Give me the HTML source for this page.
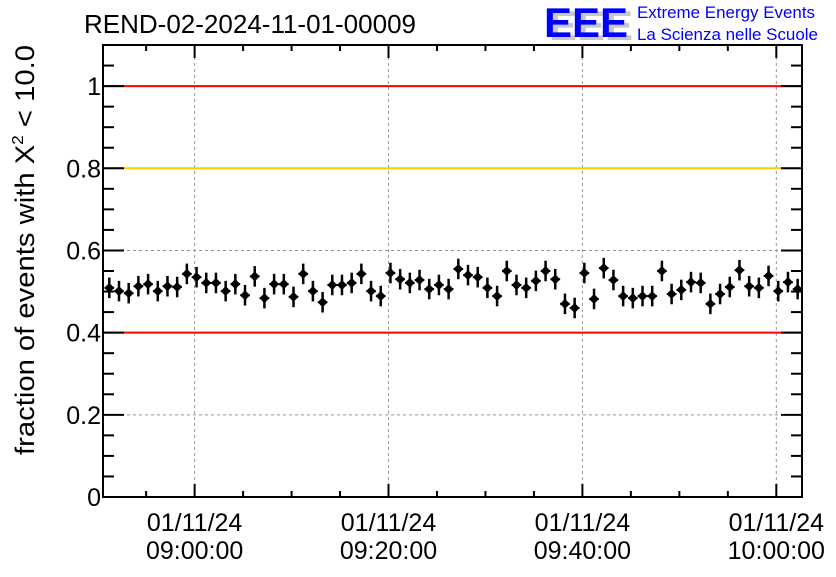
<!DOCTYPE html>
<html><head><meta charset="utf-8"><style>
body{margin:0;background:#fff;}
svg text{font-family:"Liberation Sans",Arial,sans-serif;}
</style></head><body>
<svg id="chart" width="836" height="572" viewBox="0 0 836 572" xmlns="http://www.w3.org/2000/svg">
<rect width="836" height="572" fill="#fff"/>
<text x="84" y="33" font-size="26" textLength="332" lengthAdjust="spacingAndGlyphs">REND-02-2024-11-01-00009</text>
<g>
<text x="549" y="40" font-size="42" font-weight="bold" fill="#c8c8c8" textLength="84" lengthAdjust="spacingAndGlyphs">EEE</text>
<text x="544" y="37" font-size="42" font-weight="bold" fill="#0000ff" textLength="84" lengthAdjust="spacingAndGlyphs">EEE</text>
<text x="637" y="18" font-size="17" fill="#0000ff" textLength="178" lengthAdjust="spacingAndGlyphs">Extreme Energy Events</text>
<text x="637" y="40" font-size="17" fill="#0000ff" textLength="181" lengthAdjust="spacingAndGlyphs">La Scienza nelle Scuole</text>
</g>
<g id="grid"></g>
<g id="refs"></g>
<g id="axes"></g>
<g id="points"></g>
<text transform="translate(34,455) rotate(-90)" font-size="27" textLength="410" lengthAdjust="spacingAndGlyphs">fraction of events with X<tspan font-size="16" dy="-11">2</tspan><tspan dy="11"> &lt; 10.0</tspan></text>
</svg>
<script>
const xTickMinutes=[60,80,100,120];
const xTickLabels=["09:00:00","09:20:00","09:40:00","10:00:00"];
const yTicks=[0,0.2,0.4,0.6,0.8,1];
const yTickLabels=["0","0.2","0.4","0.6","0.8","1"];
const refValues=[1,0.8,0.4];
const refColors=["#ff0000","#ffcc00","#ff0000"];
const startMinute=51.2;
const values=[0.509,0.501,0.496,0.513,0.518,0.501,0.513,0.511,0.543,0.535,0.521,0.521,0.501,0.518,0.491,0.537,0.484,0.518,0.518,0.487,0.543,0.501,0.474,0.516,0.516,0.521,0.543,0.501,0.489,0.545,0.530,0.521,0.528,0.506,0.516,0.506,0.555,0.540,0.535,0.509,0.489,0.550,0.516,0.509,0.526,0.550,0.530,0.470,0.460,0.545,0.482,0.557,0.528,0.489,0.484,0.489,0.489,0.550,0.494,0.504,0.523,0.521,0.470,0.494,0.511,0.552,0.513,0.509,0.538,0.501,0.523,0.506];
const errors=values.map(()=>0.03);
const NS="http://www.w3.org/2000/svg";
const L=103,R=802,T=45,B=497;
const xMin=50.55,xMax=122.65,yMin=0,yMax=1.1;
const X=m=>L+(m-xMin)/(xMax-xMin)*(R-L);
const Y=v=>B-(v-yMin)/(yMax-yMin)*(B-T);
function mk(tag,attrs,parent){const e=document.createElementNS(NS,tag);for(const k in attrs)e.setAttribute(k,attrs[k]);parent.appendChild(e);return e;}
const grid=document.getElementById('grid'),axes=document.getElementById('axes'),refs=document.getElementById('refs'),pts=document.getElementById('points');
xTickMinutes.forEach(m=>{const l=mk('line',{x1:X(m),x2:X(m),y1:T,y2:B,stroke:'#999','stroke-dasharray':'3,3'},grid);

});
yTicks.forEach(v=>{if(v===0)return;const l=mk('line',{x1:L,x2:R,y1:Y(v),y2:Y(v),stroke:'#999','stroke-dasharray':'3,3'},grid);

});
mk('rect',{x:L,y:T,width:R-L,height:B-T,fill:'none',stroke:'#000','stroke-width':2},axes);
for(let m=55;m<xMax;m+=5){const major=(m%20===0);const len=major?13:6;
mk('line',{x1:X(m),x2:X(m),y1:B,y2:B-len,stroke:'#000','stroke-width':2},axes);
mk('line',{x1:X(m),x2:X(m),y1:T,y2:T+len,stroke:'#000','stroke-width':2},axes);}
for(let k=1;k<=21;k++){const v=k*0.05;const major=(k%4===0);const len=major?21:11;
mk('line',{x1:L,x2:L+len,y1:Y(v),y2:Y(v),stroke:'#000','stroke-width':2},axes);
mk('line',{x1:R,x2:R-len,y1:Y(v),y2:Y(v),stroke:'#000','stroke-width':2},axes);}
refValues.forEach((v,i)=>{const l=mk('line',{x1:L,x2:R,y1:Y(v),y2:Y(v),stroke:refColors[i],'stroke-width':2},refs);

});
yTicks.forEach((v,i)=>{const t=mk('text',{x:L-2,y:Y(v)+9,'font-size':25,'text-anchor':'end'},axes);t.textContent=yTickLabels[i];

});
xTickMinutes.forEach((m,i)=>{const t1=mk('text',{x:X(m),y:531,'font-size':25,'text-anchor':'middle'},axes);t1.textContent='01/11/24';


const t2=mk('text',{x:X(m),y:559,'font-size':25,'text-anchor':'middle'},axes);t2.textContent=xTickLabels[i];

});
values.forEach((v,i)=>{const m=startMinute+i;const cx=X(m),cy=Y(v);
const g=mk('g',{},pts);


mk('line',{x1:cx,x2:cx,y1:Y(v+errors[i]/2+0.01),y2:Y(v-errors[i]/2-0.01),stroke:'#000','stroke-width':2.5},g);
mk('line',{x1:X(m-0.5),x2:X(m+0.5),y1:cy,y2:cy,stroke:'#000','stroke-width':2},g);
mk('path',{d:`M${cx} ${cy-5}L${cx+5} ${cy}L${cx} ${cy+5}L${cx-5} ${cy}Z`,fill:'#000'},g);});
</script>
</body></html>
